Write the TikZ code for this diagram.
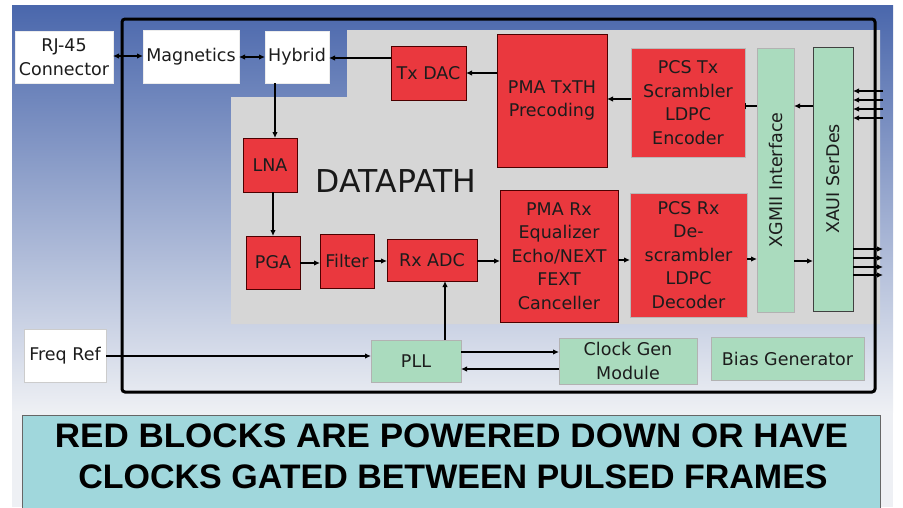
\documentclass[tikz,border=0pt]{standalone}
\usepackage{fontspec}
\setmainfont{DejaVu Sans}
\newfontfamily\bannerfont{Liberation Sans}
\usetikzlibrary{arrows.meta}

\definecolor{bgtop}{RGB}{74,103,172}
\definecolor{bgbot}{RGB}{238,240,244}
\definecolor{blockred}{RGB}{234,56,62}
\definecolor{blockgreen}{RGB}{170,219,190}
\definecolor{pathgray}{RGB}{214,214,214}
\definecolor{bannerteal}{RGB}{160,215,220}
\definecolor{labeltext}{RGB}{28,28,28}

\begin{document}
\begin{tikzpicture}[x=1pt,y=-1pt,
  box/.style={rectangle, inner sep=0pt, outer sep=0pt, align=center,
    text=labeltext, font=\fontsize{17.5}{23.5}\selectfont, line width=0.8pt},
  redbox/.style={box, fill=blockred, draw=red!30!black},
  pcsbox/.style={box, fill=blockred, draw=gray!55},
  greenbox/.style={box, fill=blockgreen, draw=gray!60},
  darkgreenbox/.style={box, fill=blockgreen, draw=black!75},
  whitebox/.style={box, fill=white, draw=white!85!gray},
  arr/.style={line width=1.2pt, -{Latex[length=6pt,width=5.5pt]}},
  dblarr/.style={line width=1.2pt, {Latex[length=6pt,width=5.5pt]}-{Latex[length=6pt,width=5.5pt]}},
  bararr/.style={line width=1.2pt, -{Bar[width=6pt]}},
  bannertext/.style={anchor=base, font=\bannerfont\bfseries\fontsize{34}{41}\selectfont},
]
\useasboundingbox (0,0) rectangle (903,507);

% background
\shade[top color=bgtop, bottom color=bgbot] (12,5) rectangle (893,412);
\fill[bgbot] (12,412) rectangle (893,507);

% datapath region
\fill[pathgray] (347,30) -- (880,30) -- (880,324) -- (231,324) -- (231,97) -- (347,97) -- cycle;
\node[anchor=base, font=\fontsize{31.5}{36}\selectfont, text=black!90] (dp) at (396,192) {DATAPATH};

% chip outline
\draw[line width=3pt, rounded corners=3pt] (122,19) rectangle (875,392);

% external blocks
\node[whitebox, minimum width=98, minimum height=52] (rj) at (64,57) {RJ-45\\Connector};
\node[whitebox, minimum width=82, minimum height=53, draw=gray!40] (freq) at (65,355.5) {Freq Ref};

% analog front end
\node[whitebox, minimum width=96, minimum height=53] (mag) at (191,56.5) {Magnetics};
\node[whitebox, minimum width=64, minimum height=52] (hyb) at (297,57) {Hybrid};
\node[redbox, minimum width=75, minimum height=54] (txdac) at (428.5,73) {Tx DAC};
\node[redbox, minimum width=54, minimum height=54] (lna) at (270,165) {LNA};
\node[redbox, minimum width=54, minimum height=53] (pga) at (273,262.5) {PGA};
\node[redbox, minimum width=54, minimum height=54] (filt) at (347,261) {Filter};
\node[redbox, minimum width=90, minimum height=42] (rxadc) at (432,260) {Rx ADC};

% digital blocks
\node[redbox, minimum width=110, minimum height=133] (pmatx) at (552,100.5) {PMA TxTH\\Precoding};
\node[pcsbox, minimum width=114, minimum height=109] (pcstx) at (688,102.5) {PCS Tx\\Scrambler\\LDPC\\Encoder};
\node[redbox, minimum width=118, minimum height=132] (pmarx) at (559,256) {PMA Rx\\Equalizer\\Echo/NEXT\\FEXT\\Canceller};
\node[pcsbox, minimum width=117, minimum height=124] (pcsrx) at (688.5,255) {PCS Rx\\De-\\scrambler\\LDPC\\Decoder};
\node[greenbox, minimum width=37, minimum height=264] (xgmii) at (775.5,180) {\rotatebox{90}{XGMII Interface}};
\node[darkgreenbox, minimum width=40, minimum height=264] (xaui) at (833,179) {\rotatebox{90}{XAUI SerDes}};

% clocking and bias
\node[greenbox, minimum width=90, minimum height=42] (pll) at (416,361) {PLL};
\node[greenbox, minimum width=138, minimum height=46] (clk) at (628,361) {Clock Gen\\Module};
\node[greenbox, minimum width=153, minimum height=43] (bias) at (787.5,358.5) {Bias Generator};

% line side
\draw[dblarr] (rj.east |- 0,56) -- (mag.west |- 0,56);
\draw[dblarr] (mag.east |- 0,57) -- (hyb.west |- 0,57);
\draw[arr] (txdac.west |- 0,58) -- (hyb.east |- 0,58);

% transmit path
\draw[arr] (pmatx.west |- 0,73) -- (txdac.east |- 0,73);
\draw[arr] (pcstx.west |- 0,99) -- (pmatx.east |- 0,99);
\draw[bararr] (xgmii.west |- 0,106) -- (pcstx.east |- 0,106);
\draw[arr] (xaui.west |- 0,106) -- (xgmii.east |- 0,106);

% receive path
\draw[arr] (275,0 |- hyb.south) -- (275,0 |- lna.north);
\draw[arr] (273,0 |- lna.south) -- (273,0 |- pga.north);
\draw[arr] (pga.east |- 0,263) -- (filt.west |- 0,263);
\draw[arr] (filt.east |- 0,261) -- (rxadc.west |- 0,261);
\draw[arr] (rxadc.east |- 0,261) -- (pmarx.west |- 0,261);
\draw[arr] (pmarx.east |- 0,260) -- (pcsrx.west |- 0,260);
\draw[arr] (pcsrx.east |- 0,259) -- (xgmii.west |- 0,259);
\draw[arr] (xgmii.east |- 0,261) -- (xaui.west |- 0,261);

% serial lanes
\foreach \ly [count=\i] in {91,100,109,118} {
  \coordinate (in\i) at (883,\ly);
  \draw[arr] (in\i) -- (xaui.east |- in\i);
}
\foreach \ly [count=\i] in {249,258,267,275} {
  \coordinate (out\i) at (883,\ly);
  \draw[arr] (xaui.east |- out\i) -- (out\i);
}

% clocking
\draw[arr] (freq.east |- 0,356) -- (pll.west |- 0,356);
\draw[arr] (445,0 |- pll.north) -- (445,0 |- rxadc.south);
\draw[arr] (pll.east |- 0,352) -- (clk.west |- 0,352);
\draw[arr] (clk.west |- 0,369) -- (pll.east |- 0,369);

% banner
\draw[fill=bannerteal, draw=black!60, line width=0.8pt] (22,415) rectangle (880,520);
\node[bannertext] (b1) at (451.5,447) {\scalebox{1.03}[1]{RED BLOCKS ARE POWERED DOWN OR HAVE}};
\node[bannertext] (b2) at (453,488) {CLOCKS GATED BETWEEN PULSED FRAMES};
\end{tikzpicture}
\end{document}
